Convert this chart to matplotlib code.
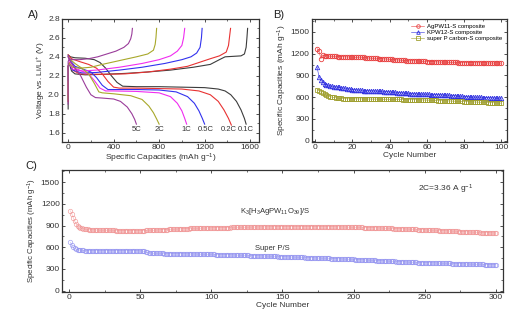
import matplotlib
matplotlib.use('Agg')
import matplotlib.pyplot as plt
from matplotlib.ticker import MultipleLocator

plt.rcParams['font.family'] = ['Liberation Sans', 'DejaVu Sans']
plt.rcParams['mathtext.fontset'] = 'custom'
plt.rcParams['mathtext.rm'] = 'Liberation Sans'
plt.rcParams['mathtext.it'] = 'Liberation Sans'

# ---- Panel A: charge/discharge profiles (capacity mAh/g, voltage V) ----
rates = ['0.1C', '0.2C', '0.5C', '1C', '2C', '5C']
rate_colors = ['#3c3c3c', '#e83232', '#3232ee', '#f02cf0', '#a8a82a', '#9a3c9a']

dis_cap = {
    '0.1C': [0, 20, 60, 150, 230, 280, 330, 380, 430, 480, 600, 800, 1000, 1200, 1320, 1380, 1430, 1480, 1520, 1550, 1565],
    '0.2C': [0, 30, 100, 180, 250, 300, 350, 400, 450, 600, 800, 1000, 1150, 1250, 1320, 1370, 1410, 1435],
    '0.5C': [0, 20, 60, 130, 200, 250, 300, 350, 400, 600, 800, 950, 1050, 1110, 1150, 1180, 1200],
    '1C': [0, 20, 60, 120, 180, 230, 280, 330, 400, 600, 800, 900, 960, 1000, 1025, 1042],
    '2C': [0, 20, 60, 120, 180, 230, 270, 300, 400, 550, 650, 710, 750, 780, 800],
    '5C': [0, 20, 60, 110, 160, 200, 240, 300, 400, 460, 520, 560, 585, 600],
}
dis_v = {
    '0.1C': [2.42, 2.40, 2.39, 2.385, 2.37, 2.34, 2.28, 2.20, 2.13, 2.09, 2.085, 2.085, 2.08, 2.075, 2.06, 2.04, 2.00, 1.93, 1.84, 1.75, 1.69],
    '0.2C': [2.42, 2.38, 2.35, 2.32, 2.28, 2.22, 2.14, 2.08, 2.07, 2.07, 2.065, 2.06, 2.04, 2.00, 1.93, 1.84, 1.75, 1.68],
    '0.5C': [2.41, 2.36, 2.30, 2.27, 2.24, 2.18, 2.10, 2.055, 2.055, 2.055, 2.05, 2.03, 1.98, 1.91, 1.83, 1.75, 1.69],
    '1C': [2.40, 2.34, 2.28, 2.25, 2.22, 2.15, 2.07, 2.04, 2.04, 2.035, 2.02, 1.98, 1.91, 1.83, 1.75, 1.69],
    '2C': [2.40, 2.37, 2.33, 2.28, 2.22, 2.12, 2.03, 2.02, 2.01, 1.99, 1.95, 1.88, 1.81, 1.74, 1.69],
    '5C': [2.40, 2.35, 2.28, 2.20, 2.08, 2.00, 1.97, 1.965, 1.955, 1.93, 1.87, 1.80, 1.74, 1.69],
}
chg_cap = {
    '0.1C': [0, 0, 10, 30, 60, 150, 300, 500, 700, 900, 1100, 1250, 1330, 1380, 1450, 1520, 1550, 1565, 1572, 1578],
    '0.2C': [0, 0, 10, 40, 100, 300, 500, 700, 900, 1050, 1150, 1250, 1330, 1390, 1410, 1420, 1428],
    '0.5C': [0, 0, 10, 40, 120, 250, 450, 650, 850, 1000, 1080, 1130, 1160, 1172, 1178],
    '1C': [0, 0, 10, 40, 120, 250, 450, 650, 800, 900, 960, 1000, 1015, 1025],
    '2C': [0, 0, 10, 40, 100, 200, 300, 450, 600, 700, 750, 765, 772, 778],
    '5C': [0, 0, 10, 40, 100, 180, 260, 340, 420, 490, 530, 550, 560, 565],
}
chg_v = {
    '0.1C': [1.85, 2.30, 2.33, 2.25, 2.22, 2.21, 2.215, 2.225, 2.24, 2.26, 2.29, 2.32, 2.37, 2.40, 2.405, 2.41, 2.43, 2.50, 2.60, 2.70],
    '0.2C': [1.93, 2.30, 2.34, 2.26, 2.22, 2.215, 2.22, 2.24, 2.27, 2.30, 2.34, 2.38, 2.41, 2.45, 2.52, 2.62, 2.70],
    '0.5C': [2.15, 2.30, 2.33, 2.26, 2.23, 2.235, 2.26, 2.29, 2.33, 2.37, 2.40, 2.44, 2.50, 2.60, 2.70],
    '1C': [2.00, 2.30, 2.33, 2.27, 2.25, 2.26, 2.29, 2.33, 2.37, 2.41, 2.46, 2.52, 2.60, 2.70],
    '2C': [1.95, 2.30, 2.33, 2.29, 2.28, 2.29, 2.32, 2.36, 2.40, 2.43, 2.47, 2.53, 2.60, 2.70],
    '5C': [1.90, 2.35, 2.38, 2.37, 2.37, 2.38, 2.40, 2.43, 2.46, 2.50, 2.54, 2.59, 2.64, 2.70],
}
label_cap = [1564, 1413, 1207, 1042, 800, 603]

# ---- Panel B: cycling of three composites (100 cycles) ----
cycles_b = list(range(1, 101))
agpw11 = [1270, 1235, 1130, 1180, 1175, 1170, 1168, 1166, 1165, 1163,
          1162, 1161, 1160, 1159, 1158, 1157, 1156, 1155, 1153, 1150,
          1148, 1150, 1152, 1153, 1152, 1148, 1145, 1142, 1140, 1138,
          1137, 1135, 1134, 1133, 1131, 1130, 1128, 1127, 1125, 1123,
          1121, 1119, 1117, 1115, 1113, 1111, 1109, 1107, 1105, 1103,
          1100, 1104, 1102, 1100, 1098, 1096, 1095, 1094, 1093, 1092,
          1091, 1090, 1089, 1088, 1087, 1086, 1085, 1084, 1083, 1082,
          1081, 1081, 1080, 1080, 1079, 1079, 1078, 1078, 1077, 1077,
          1076, 1076, 1075, 1075, 1075, 1074, 1074, 1074, 1073, 1073,
          1073, 1072, 1072, 1072, 1071, 1071, 1071, 1070, 1070, 1070]
kpw12 = [1010, 880, 835, 805, 785, 770, 762, 755, 750, 746,
         742, 738, 734, 730, 726, 722, 718, 714, 710, 706,
         703, 700, 698, 696, 694, 692, 690, 688, 687, 686,
         685, 684, 683, 682, 681, 680, 678, 676, 674, 672,
         670, 668, 666, 664, 662, 660, 658, 656, 654, 652,
         650, 648, 646, 645, 644, 643, 642, 641, 640, 639,
         638, 637, 636, 635, 634, 633, 632, 631, 630, 629,
         627, 625, 623, 621, 619, 617, 615, 613, 611, 609,
         607, 605, 603, 601, 600, 599, 598, 597, 596, 595,
         594, 593, 592, 591, 590, 589, 588, 587, 586, 584]
superp_b = [705, 690, 670, 652, 638, 626, 616, 608, 601, 596,
            592, 588, 585, 583, 581, 580, 579, 578, 578, 577,
            577, 577, 576, 576, 576, 575, 575, 575, 575, 574,
            574, 574, 574, 573, 573, 573, 572, 572, 572, 571,
            571, 571, 570, 570, 569, 569, 568, 568, 567, 567,
            566, 566, 565, 565, 564, 563, 563, 562, 561, 560,
            559, 558, 557, 556, 555, 554, 553, 552, 551, 550,
            549, 548, 547, 546, 545, 544, 543, 542, 541, 540,
            539, 538, 537, 536, 535, 534, 533, 532, 531, 530,
            528, 527, 526, 525, 524, 523, 522, 521, 520, 519]

# ---- Panel C: long cycling at 2C (300 cycles) ----
cycles_c = list(range(1, 301))
agpw_c = [1105, 1060, 1010, 960, 925, 900, 880, 868, 860, 855,
          850, 848, 846, 844, 842, 840, 840, 839, 838, 838,
          837, 836, 836, 835, 835, 834, 834, 833, 833, 832,
          832, 832, 831, 831, 830, 830, 830, 830, 829, 829,
          829, 829, 829, 829, 829, 829, 829, 830, 830, 830,
          830, 831, 831, 832, 832, 833, 833, 834, 835, 836,
          837, 838, 839, 840, 841, 842, 843, 844, 845, 846,
          847, 848, 849, 850, 851, 852, 853, 854, 855, 856,
          857, 857, 858, 859, 860, 860, 861, 862, 862, 863,
          863, 864, 864, 865, 865, 866, 866, 867, 867, 868,
          868, 869, 869, 870, 870, 870, 871, 871, 872, 872,
          872, 873, 873, 874, 874, 874, 875, 875, 875, 876,
          876, 876, 877, 877, 877, 878, 878, 878, 879, 879,
          879, 880, 880, 880, 880, 881, 881, 881, 881, 882,
          882, 882, 882, 883, 883, 883, 883, 883, 884, 884,
          884, 884, 884, 885, 885, 885, 885, 885, 885, 886,
          886, 886, 886, 886, 886, 886, 886, 886, 886, 886,
          886, 886, 886, 886, 885, 885, 885, 885, 885, 884,
          884, 884, 884, 883, 883, 883, 882, 882, 882, 881,
          881, 880, 880, 880, 879, 879, 878, 878, 877, 877,
          876, 876, 875, 875, 874, 874, 873, 873, 872, 871,
          871, 870, 870, 869, 868, 868, 867, 866, 866, 865,
          864, 864, 863, 862, 861, 861, 860, 859, 858, 857,
          857, 856, 855, 854, 853, 852, 852, 851, 850, 849,
          848, 847, 846, 846, 845, 844, 843, 842, 841, 840,
          839, 838, 837, 836, 835, 834, 834, 833, 832, 831,
          830, 829, 828, 827, 826, 825, 824, 823, 822, 821,
          820, 819, 818, 817, 817, 816, 815, 814, 813, 812,
          811, 810, 809, 808, 808, 807, 806, 805, 804, 803,
          803, 802, 801, 800, 800, 799, 798, 797, 797, 796]
superp_c = [670, 625, 600, 585, 575, 568, 563, 560, 558, 556,
            555, 554, 553, 553, 552, 552, 552, 551, 551, 551,
            551, 551, 551, 551, 551, 551, 552, 552, 552, 552,
            552, 552, 553, 553, 553, 553, 553, 553, 553, 553,
            553, 553, 552, 552, 552, 552, 551, 551, 550, 549,
            548, 546, 542, 535, 528, 524, 521, 519, 518, 517,
            516, 516, 515, 515, 514, 514, 513, 513, 513, 512,
            512, 512, 511, 511, 511, 510, 510, 510, 509, 509,
            509, 508, 508, 508, 507, 507, 507, 506, 506, 506,
            505, 505, 505, 504, 504, 503, 503, 503, 502, 502,
            501, 501, 500, 500, 499, 499, 498, 498, 497, 497,
            496, 496, 495, 494, 494, 493, 493, 492, 491, 491,
            490, 489, 489, 488, 487, 487, 486, 485, 485, 484,
            483, 483, 482, 481, 480, 480, 479, 478, 478, 477,
            476, 475, 475, 474, 473, 473, 472, 471, 470, 470,
            469, 468, 468, 467, 466, 465, 465, 464, 463, 462,
            462, 461, 460, 459, 459, 458, 457, 456, 456, 455,
            454, 453, 452, 452, 451, 450, 449, 449, 448, 447,
            446, 445, 445, 444, 443, 442, 441, 441, 440, 439,
            438, 437, 437, 436, 435, 434, 433, 432, 432, 431,
            430, 429, 428, 427, 426, 426, 425, 424, 423, 422,
            421, 420, 419, 418, 418, 417, 416, 415, 414, 413,
            412, 411, 410, 409, 408, 407, 406, 405, 404, 403,
            402, 401, 400, 399, 398, 397, 396, 395, 394, 393,
            392, 391, 391, 390, 389, 389, 388, 388, 387, 387,
            386, 386, 385, 385, 384, 384, 383, 383, 382, 381,
            381, 380, 379, 379, 378, 377, 377, 376, 375, 375,
            374, 373, 373, 372, 371, 371, 370, 369, 369, 368,
            367, 367, 366, 366, 365, 364, 364, 363, 363, 362,
            362, 361, 361, 360, 360, 359, 359, 358, 358, 357]


def style_axes(ax, xmaj, xmin, ymaj, ymin):
    ax.xaxis.set_major_locator(MultipleLocator(xmaj))
    ax.xaxis.set_minor_locator(MultipleLocator(xmin))
    ax.yaxis.set_major_locator(MultipleLocator(ymaj))
    ax.yaxis.set_minor_locator(MultipleLocator(ymin))
    ax.tick_params(which='both', direction='in', top=True, right=True,
                   labelsize=6, pad=1.5, color='#333333', labelcolor='#333333')
    ax.tick_params(which='major', length=2.5, width=0.6)
    ax.tick_params(which='minor', length=1.5, width=0.5)
    for s in ax.spines.values():
        s.set_linewidth(0.9)
        s.set_color('#333333')


fig = plt.figure(figsize=(5.29, 3.26), dpi=100)

# Panel A
axA = fig.add_axes([0.117, 0.564, 0.373, 0.378])
for r, c, lx in zip(rates, rate_colors, label_cap):
    axA.plot(dis_cap[r], dis_v[r], color=c, lw=0.8)
    axA.plot(chg_cap[r], chg_v[r], color=c, lw=0.8)
    axA.text(lx, 1.635, r, fontsize=5.5, color='#333333', ha='center', va='center')
axA.set_xlim(-55, 1680)
axA.set_ylim(1.5, 2.8)
style_axes(axA, 400, 200, 0.2, 0.1)
axA.set_xlabel('Specific Capacities (mAh g$^{-1}$)', fontsize=6, labelpad=0.5, color='#333333')
axA.set_ylabel('Voltage vs. Li/Li$^{+}$ (V)', fontsize=6, labelpad=1, color='#333333')
fig.text(0.052, 0.955, 'A)', fontsize=8, color='#222222', va='center')

# Panel B
axB = fig.add_axes([0.589, 0.564, 0.369, 0.378])
axB.plot(cycles_b, agpw11, color='#e84040', lw=0.4, marker='o', ms=3.2, mfc='none',
         mew=0.6, label='AgPW11-S composite')
axB.plot(cycles_b, kpw12, color='#3030e0', lw=0.4, marker='^', ms=3.2, mfc='none',
         mew=0.6, label='KPW12-S composite')
axB.plot(cycles_b, superp_b, color='#a0a030', lw=0.4, marker='s', ms=3.0, mfc='none',
         mew=0.6, label='super P carbon-S composite')
axB.set_xlim(-2, 103)
axB.set_ylim(-20, 1680)
style_axes(axB, 20, 10, 300, 150)
axB.set_xlabel('Cycle Number', fontsize=6, labelpad=0.5, color='#333333')
axB.set_ylabel('Specific Capacities (mAh g$^{-1}$)', fontsize=6, labelpad=1, color='#333333')
axB.legend(loc='upper right', fontsize=4.3, frameon=False, handlelength=2.2,
           handletextpad=0.4, labelspacing=0.15, borderaxespad=0.4, markerscale=0.8)
fig.text(0.516, 0.955, 'B)', fontsize=8, color='#222222', va='center')

# Panel C
axC = fig.add_axes([0.117, 0.105, 0.834, 0.374])
axC.plot(cycles_c, agpw_c, color='#f09090', lw=0.3, marker='o', ms=3.2, mfc='none',
         mew=0.5, alpha=0.8)
axC.plot(cycles_c, superp_c, color='#9090f0', lw=0.3, marker='o', ms=3.2, mfc='none',
         mew=0.5, alpha=0.8)
axC.set_xlim(-5, 305)
axC.set_ylim(-15, 1670)
style_axes(axC, 50, 25, 300, 150)
axC.set_xlabel('Cycle Number', fontsize=6, labelpad=0.5, color='#333333')
axC.set_ylabel('Specific Capacities (mAh g$^{-1}$)', fontsize=5.7, labelpad=1, color='#333333')
axC.text(0.807, 0.836, '2C=3.36 A g$^{-1}$', transform=axC.transAxes, fontsize=6,
         color='#333333', va='center')
axC.text(0.483, 0.657, 'K$_3$[H$_3$AgPW$_{11}$O$_{39}$]/S', transform=axC.transAxes,
         fontsize=5.5, color='#333333', ha='center', va='center')
axC.text(0.476, 0.357, 'Super P/S', transform=axC.transAxes, fontsize=5.5,
         color='#333333', ha='center', va='center')
fig.text(0.048, 0.49, 'C)', fontsize=8, color='#222222', va='center')

fig.savefig('out.png', dpi=100)
